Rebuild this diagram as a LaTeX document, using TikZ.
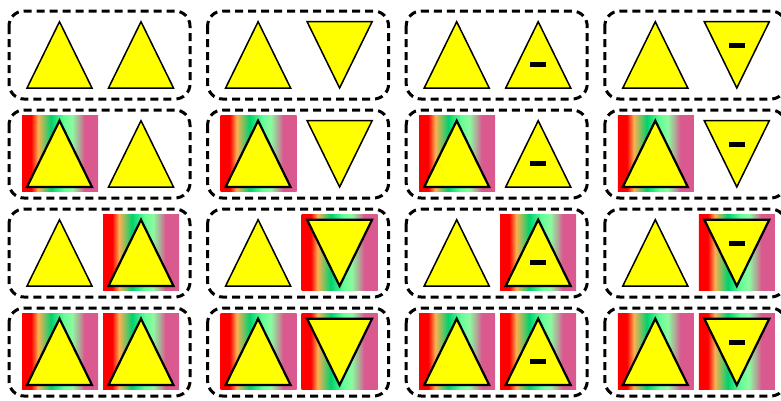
\documentclass[tikz,border=0pt]{standalone}

\definecolor{tyellow}{RGB}{255,255,0}
\definecolor{gred}{RGB}{255,0,0}
\definecolor{gorange}{RGB}{255,175,80}
\definecolor{ggreen}{RGB}{0,210,110}
\definecolor{glight}{RGB}{100,255,150}
\definecolor{gpale}{RGB}{140,250,160}
\definecolor{ggrey}{RGB}{180,160,150}
\definecolor{gpink}{RGB}{218,90,144}
\pgfdeclarehorizontalshading{stripes}{100bp}{color(0bp)=(gred); color(31bp)=(gred);
  color(35.5bp)=(gorange); color(44bp)=(ggreen); color(52.5bp)=(glight);
  color(58bp)=(gpale); color(63bp)=(ggrey); color(66bp)=(gpink); color(100bp)=(gpink)}

\tikzset{
  slot/.style={draw=black, line width=3pt, dash pattern=on 8pt off 5pt, rounded corners=15pt},
  tri/.style={fill=tyellow, draw=black, line width=1.5pt},
  trig/.style={tri, line width=2.2pt},
  grad/.style={shading=stripes},
  minus/.style={fill=black}
}

\begin{document}
\begin{tikzpicture}[x=1pt, y=-1pt]
    \useasboundingbox (0,0) rectangle (781,400);
    \clip (0,0) rectangle (781,400);
    \foreach \row in {0,...,3} {
      \foreach \col in {0,...,3} {
        \begin{scope}[shift={({9+198.6*\col},{11+99*\row})}]
          \draw[slot] (0,0) rectangle (181,88);
          % left slot: always an upright triangle
          \ifodd\row
            \shade[grad] (13,5) rectangle (89,81);
            \draw[trig] (50.5,10.7) -- (83,77) -- (18,77) -- cycle;
          \else
            \draw[tri] (50.5,10.7) -- (83,77) -- (18,77) -- cycle;
          \fi
          % right slot
          \ifnum\row>1
            \shade[grad] (94,5) rectangle (170,81);
            \tikzset{rtri/.style={trig}}
          \else
            \tikzset{rtri/.style={tri}}
          \fi
          \ifodd\col
            \draw[rtri] (99.5,10.7) -- (164.5,10.7) -- (132,77) -- cycle;
            \ifnum\col>1 \fill[minus] (124,32) rectangle (140,37); \fi
          \else
            \draw[rtri] (132,10.7) -- (164.5,77) -- (99.5,77) -- cycle;
            \ifnum\col>1 \fill[minus] (124,50.5) rectangle (140,55.5); \fi
          \fi
        \end{scope}
      }
    }
\end{tikzpicture}
\end{document}
